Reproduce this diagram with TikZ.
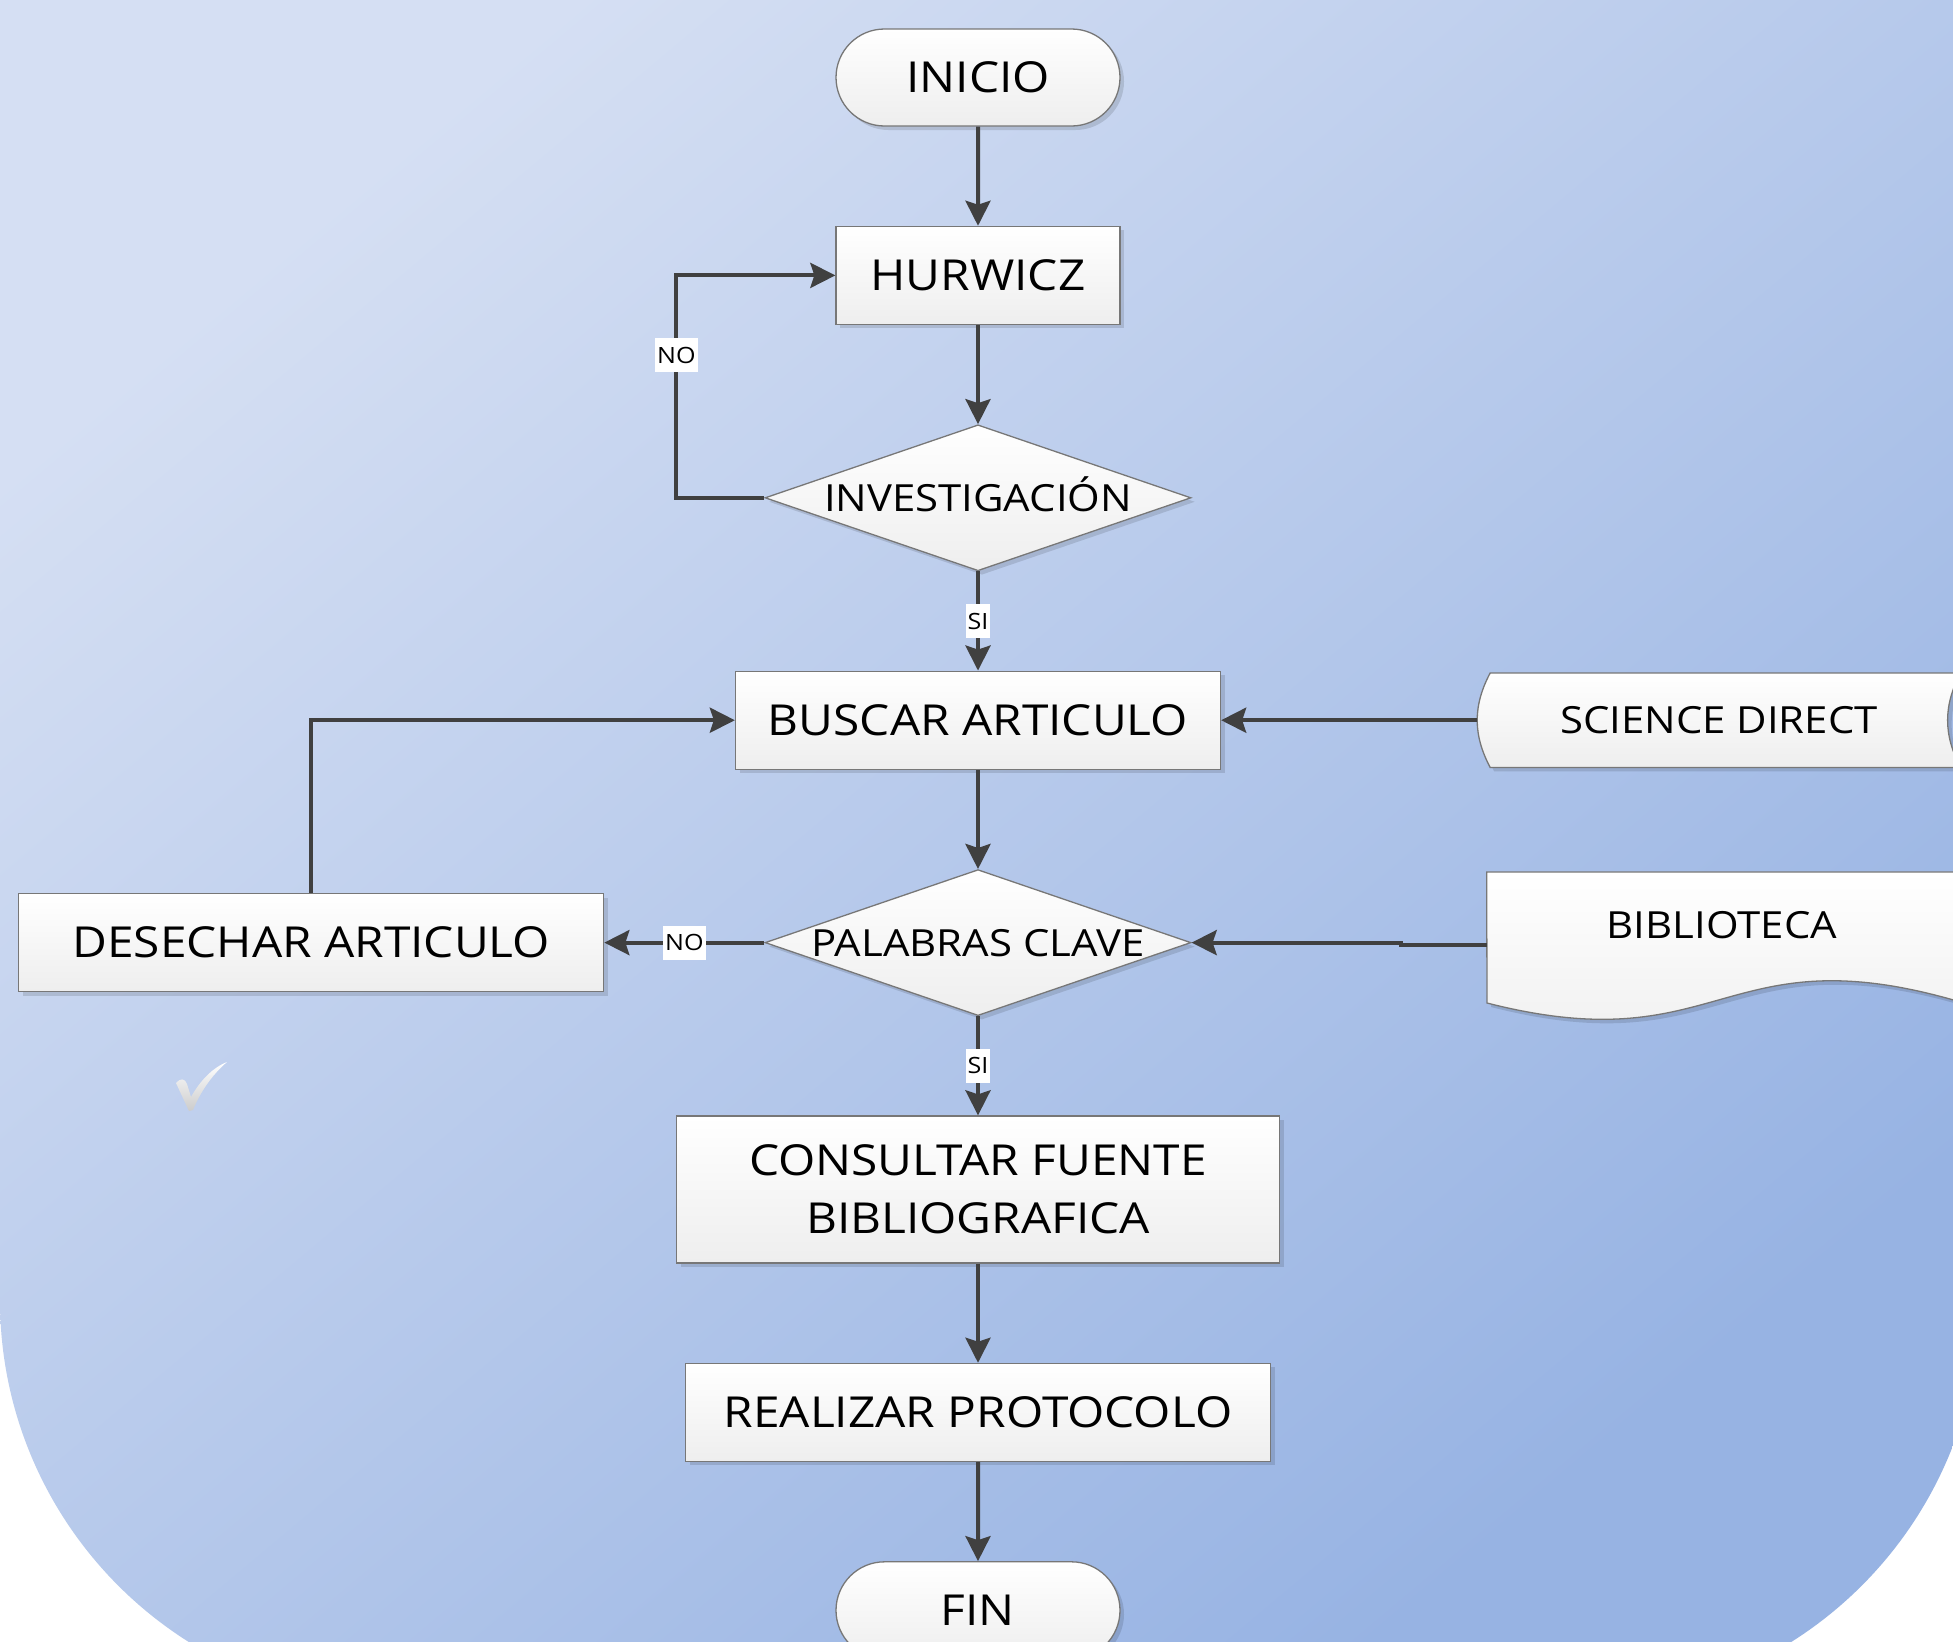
\documentclass[tikz,border=0pt]{standalone}
\usepackage{fontspec}
\setmainfont{Open Sans}[FakeStretch=1.12]
\usetikzlibrary{positioning,shapes.geometric,shapes.misc,arrows.meta,shadows,backgrounds}

\definecolor{fondoA}{HTML}{D5DFF3}
\definecolor{fondoB}{HTML}{97B3E3}
\definecolor{linea}{HTML}{404040}
\definecolor{borde}{HTML}{777777}
\definecolor{relleno}{HTML}{EEEEEE}

\newcommand{\letragrande}{\fontsize{42.7pt}{58pt}\selectfont}
\newcommand{\letramedia}{\fontsize{37.4pt}{44pt}\selectfont}
\newcommand{\letrachica}{\fontsize{22.4pt}{26pt}\selectfont}

\begin{document}
\begin{tikzpicture}[
  x=1pt, y=-1pt,
  node distance=99.1pt,
  forma/.style={draw=borde, line width=1.3pt, top color=white, bottom color=relleno,
    drop shadow={shadow xshift=4pt, shadow yshift=-4pt, opacity=.12, fill=black}},
  proceso/.style={forma, rectangle, minimum height=98pt, inner sep=0pt, align=center, font=\letragrande},
  terminal/.style={forma, rounded rectangle, minimum width=284pt, minimum height=97pt, inner sep=0pt, font=\letragrande},
  decision/.style={forma, diamond, aspect=2.92, minimum width=426pt, minimum height=146pt, inner sep=0pt, text height=27pt, text depth=0pt, font=\letramedia},
  datos/.style={rectangle, inner sep=0pt, font=\letramedia},
  flecha/.style={draw=linea, line width=4pt, -{Stealth[length=25pt, width=25pt, inset=4pt]}},
  etiq/.style={fill=white, inner xsep=2pt, inner ysep=0pt, minimum height=34pt, font=\letrachica}
]

\useasboundingbox (0,0) rectangle (1953,1641);
\clip (0,0) rectangle (1953,1641);

% Fondo
\begin{scope}[on background layer]
  \fill[white] (0,0) rectangle (1953,1641);
  \begin{scope}
    \clip[rounded corners=404pt] (0,-1000) rectangle (1980,1704);
    \shade[top color=fondoA, bottom color=fondoB, shading angle=40] (0,0) rectangle (1953,1641);
  \end{scope}
\end{scope}

% Columna principal
\node[terminal] (inicio) at (978,77.5) {INICIO};
\node[proceso, below=of inicio, minimum width=284pt] (hurwicz) {HURWICZ};
\node[decision, below=of hurwicz] (investigacion) {INVESTIGACIÓN};
\node[proceso, below=of investigacion, minimum width=485pt] (buscar) {BUSCAR ARTICULO};
\node[decision, below=of buscar] (palabras) {PALABRAS CLAVE};
\node[proceso, below=of palabras, minimum width=603pt, minimum height=147pt] (consultar) {CONSULTAR FUENTE\\BIBLIOGRAFICA};
\node[proceso, below=of consultar, minimum width=585pt] (realizar) {REALIZAR PROTOCOLO};
\node[terminal, below=of realizar] (fin) {FIN};

% Nodos laterales
\node[proceso, left=160pt of palabras, minimum width=585pt] (desechar) {DESECHAR ARTICULO};
\node[datos, right=256pt of buscar, minimum width=483pt, minimum height=94pt] (science) {SCIENCE DIRECT};
\node[datos, right=295pt of palabras, yshift=-2.5pt, minimum width=470pt, minimum height=146pt, text height=27pt, text depth=40.3pt] (biblioteca) {BIBLIOTECA};

% Formas de datos y documento
\begin{scope}[on background layer]
  \path[forma] ([xshift=13pt]science.north west) to[bend right=28] ([xshift=13pt]science.south west)
    -- (science.south east) to[bend left=28] (science.north east) -- cycle;
  \path[forma] (biblioteca.north west) -- (biblioteca.north east) -- (1957,1001)
    .. controls (1722,933) and (1722,1063) .. (1487,1003) -- cycle;
\end{scope}

% Flechas
\draw[flecha] (inicio) -- (hurwicz);
\draw[flecha] (hurwicz) -- (investigacion);
\draw[flecha] (investigacion.west) -- ++(-88,0) |- node[etiq, pos=0.32] {NO} (hurwicz.west);
\draw[flecha] (investigacion) -- node[etiq] {SI} (buscar);
\draw[flecha] (science.west) -- (buscar.east);
\draw[flecha] (buscar) -- (palabras);
\draw[flecha] (biblioteca.west) -- ++(-86,0) |- (palabras.east);
\draw[flecha] (palabras.west) -- node[etiq] {NO} (desechar.east);
\draw[flecha] (desechar.north) |- (buscar.west);
\draw[flecha] (palabras) -- node[etiq] {SI} (consultar);
\draw[flecha] (consultar) -- (realizar);
\draw[flecha] (realizar) -- (fin);

% Marca
\shade[top color=white, bottom color=gray!40] (176,1083) .. controls (180,1078) and (185,1078) .. (187,1084)
  -- (191,1097) .. controls (200,1081) and (212,1068) .. (227,1062)
  .. controls (214,1073) and (201,1090) .. (193,1110) -- (189,1111) -- cycle;

\end{tikzpicture}
\end{document}
